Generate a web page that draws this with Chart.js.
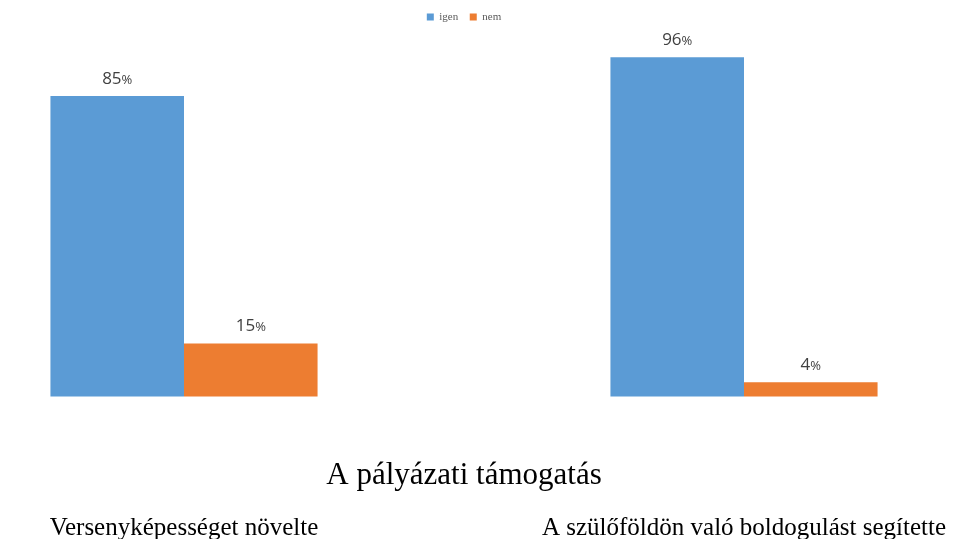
<!DOCTYPE html>
<html>
<head>
<meta charset="utf-8">
<script src="https://cdn.jsdelivr.net/npm/chart.js@4.4.1/dist/chart.umd.min.js"></script>
<style>
  body { margin: 0; background: #fff; }
  #wrap { width: 961px; height: 539px; }
</style>
</head>
<body>
<div id="wrap"><canvas id="canvas"></canvas></div>
<script>
var categories = ['Versenyképességet növelte', 'A szülőföldön való boldogulást segítette'];
var igenValues = [85, 96];
var nemValues = [15, 4];
var seriesNames = ['igen', 'nem'];
var axisTitle = 'A pályázati támogatás';

// value labels above bars, number big and % a bit smaller
var valueLabels = {
    id: 'valueLabels',
    afterDatasetsDraw: function(chart) {
	var ctx = chart.ctx;
	ctx.save();
	ctx.fillStyle = '#404040';
	ctx.textBaseline = 'middle';
	chart.data.datasets.forEach(function(ds, i) {
	    chart.getDatasetMeta(i).data.forEach(function(bar, j) {
		var num = String(ds.data[j]);
		ctx.font = '17px "Open Sans"';
		var w1 = ctx.measureText(num).width;
		ctx.font = '13px "Open Sans"';
		var w2 = ctx.measureText('%').width;
		var x = bar.x - (w1 + w2) / 2;
		var y = bar.y - 17;
		ctx.textAlign = 'left';
		ctx.font = '17px "Open Sans"';
		ctx.fillText(num, x, y);
		ctx.font = '13px "Open Sans"';
		ctx.fillText('%', x + w1, y + 1);
	    });
	});
	ctx.restore();
    }
};

function renderGraph() {
    var ctx = document.getElementById('canvas').getContext('2d');

    var barData = {
	labels: categories,
	datasets: [{
	    label: seriesNames[0],
	    data: igenValues,
	    backgroundColor: '#5B9BD5',
	    clip: false
	}, {
	    label: seriesNames[1],
	    data: nemValues,
	    backgroundColor: '#ED7D31',
	    clip: false
	}]
    };

    var barOptions = {
	responsive: true,
	maintainAspectRatio: false,
	animation: false,
	categoryPercentage: 0.477,
	barPercentage: 1,
	layout: { padding: { left: 184, right: 217, top: 0, bottom: -13.5 } },
	plugins: {
	    legend: {
		position: 'top',
		labels: {
		    boxWidth: 7,
		    boxHeight: 7,
		    padding: 11.5,
		    color: '#595959',
		    font: { family: '"Liberation Serif"', size: 11 }
		}
	    },
	    title: {
		display: true,
		position: 'bottom',
		text: axisTitle,
		color: '#000',
		font: { family: '"Liberation Serif"', size: 31, weight: 'normal', lineHeight: 1 },
		padding: { top: 64, bottom: 4 }
	    },
	    tooltip: { enabled: false }
	},
	scales: {
	    x: {
		offset: false,
		weight: 3000,
		grid: { display: false },
		border: { display: false },
		ticks: {
		    padding: 12,
		    color: '#000',
		    maxRotation: 0,
		    autoSkip: false,
		    font: { family: '"Liberation Serif"', size: 25, lineHeight: 1 }
		}
	    },
	    y: {
		display: false,
		min: 0,
		max: 103
	    }
	}
    };

    new Chart(ctx, {
	type: 'bar',
	data: barData,
	options: barOptions,
	plugins: [valueLabels]
    });
}

renderGraph();
</script>
</body>
</html>
